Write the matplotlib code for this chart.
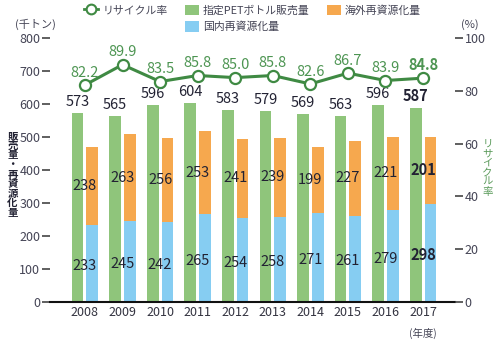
import numpy as np
import matplotlib
matplotlib.use("Agg")
import matplotlib.pyplot as plt
from matplotlib.lines import Line2D
from matplotlib.patches import Patch

plt.rcParams['font.family'] = ['Noto Sans CJK JP', 'DejaVu Sans']

years = ['2008', '2009', '2010', '2011', '2012', '2013', '2014', '2015', '2016', '2017']
sales = [573, 565, 596, 604, 583, 579, 569, 563, 596, 587]
overseas = [238, 263, 256, 253, 241, 239, 199, 227, 221, 201]
domestic = [233, 245, 242, 265, 254, 258, 271, 261, 279, 298]
rate = [82.2, 89.9, 83.5, 85.8, 85.0, 85.8, 82.6, 86.7, 83.9, 84.8]

GREEN = '#8fc57b'
ORANGE = '#f6a84e'
BLUE = '#86cdf2'
LINE = '#3f8a43'
LABEL_GREEN = '#4d9552'

fig = plt.figure(figsize=(5, 3.49), dpi=100)
ax = fig.add_axes([0.10, 0.135, 0.81, 0.756])
ax2 = ax.twinx()

x = np.arange(len(years))
w = 0.31
off = 0.195

ax.bar(x - off, sales, w, color=GREEN, zorder=2)
ax.bar(x + off, domestic, w, color=BLUE, zorder=2)
ax.bar(x + off, overseas, w, bottom=domestic, color=ORANGE, zorder=2)

for i in range(len(years)):
    bold = 'bold' if i == len(years) - 1 else 'normal'
    ax.text(x[i] - off, sales[i] + 12, str(sales[i]), ha='center', va='bottom',
            fontsize=10.5, color='#222233', fontweight=bold, zorder=5)
    ax.text(x[i], domestic[i] + overseas[i] / 2, str(overseas[i]), ha='center', va='center',
            fontsize=10.5, color='#222233', fontweight=bold, zorder=5)
    ax.text(x[i], domestic[i] / 2 - 8, str(domestic[i]), ha='center', va='center',
            fontsize=10.5, color='#222233', fontweight=bold, zorder=5)

ax.set_xlim(-0.93, 9.85)
ax.set_ylim(0, 800)
ax.set_yticks(range(0, 801, 100))
ax.set_xticks(x)
ax.set_xticklabels(years, fontsize=9, color='#333340')
ax.tick_params(axis='x', length=0, pad=3)
ax.tick_params(axis='y', length=6, width=1.2, color='#444444', labelsize=9,
               labelcolor='#444455', pad=1)
for s in ['top', 'right', 'left']:
    ax.spines[s].set_visible(False)
ax.spines['bottom'].set_linewidth(1.5)
ax.spines['bottom'].set_color('#111111')

ax2.plot(x, rate, color=LINE, lw=2.2, marker='o', ms=8, mfc='white', mec=LINE, mew=1.6, zorder=4)
for i in range(len(years)):
    bold = 'bold' if i == len(years) - 1 else 'normal'
    ax2.text(x[i], rate[i] + 2.0, f'{rate[i]:.1f}', ha='center', va='bottom',
             fontsize=10.5, color=LABEL_GREEN, fontweight=bold)
ax2.set_ylim(0, 100)
ax2.set_yticks(range(0, 101, 20))
ax2.tick_params(axis='y', length=6, width=1.2, color='#444444', labelsize=9,
                labelcolor='#444455', pad=1)
for s in ['top', 'right', 'left', 'bottom']:
    ax2.spines[s].set_visible(False)
# keep line above bars
ax.patch.set_visible(False)
ax2.set_zorder(2)
ax.set_zorder(1)

fig.text(0.07, 0.93, '(千トン)', fontsize=8, color='#444455', ha='center', va='center')
fig.text(0.94, 0.93, '(%)', fontsize=8, color='#444455', ha='center', va='center')
fig.text(0.846, 0.045, '(年度)', fontsize=7.5, color='#444455', ha='center', va='center')

fig.text(0.025, 0.50, '\n'.join('販売量・再資源化量'), fontsize=7.5, color='#222233',
         ha='center', va='center', linespacing=0.95, fontweight='bold')
fig.text(0.975, 0.52, '\n'.join('リサイクル率'), fontsize=7.5, color='#5a9a5a',
         ha='center', va='center', linespacing=0.95)

handles = [
    Line2D([], [], color=LINE, lw=2, marker='o', ms=7, mfc='white', mec=LINE, mew=1.5),
    Patch(facecolor='none', edgecolor='none'),
    Patch(facecolor=GREEN),
    Patch(facecolor=BLUE),
    Patch(facecolor=ORANGE),
]
labels = ['リサイクル率', '', '指定PETボトル販売量', '国内再資源化量', '海外再資源化量']
fig.legend(handles, labels, ncol=3, loc='upper center', bbox_to_anchor=(0.505, 0.995),
           frameon=False, fontsize=7.8, handlelength=1.3, handleheight=1.1,
           columnspacing=1.6, labelspacing=0.5, handletextpad=0.35, labelcolor='#444455',
           borderaxespad=0, borderpad=0.3)

fig.savefig('out.png', dpi=100)
